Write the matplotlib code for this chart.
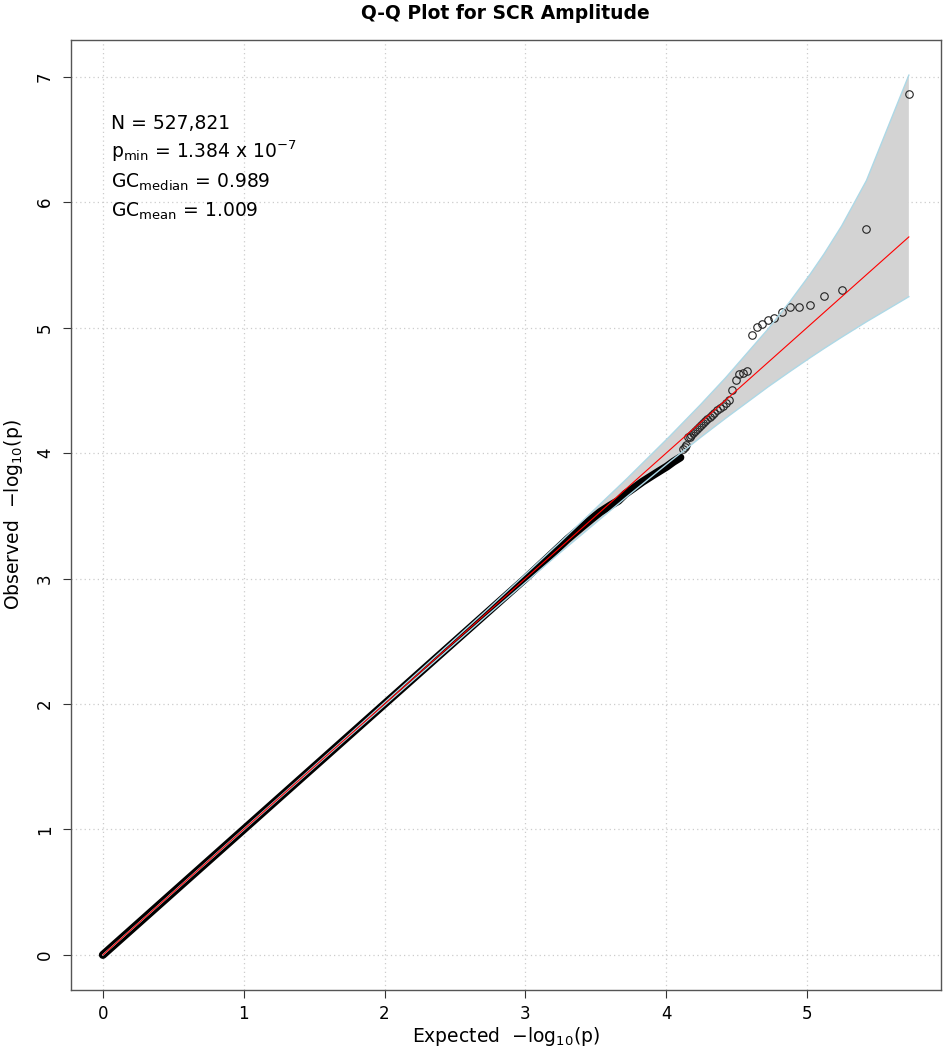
'''Q-Q plot for SCR amplitude GWAS p-values'''
import numpy as np
import matplotlib as mpl
import matplotlib.pyplot as plt

# Tail points (expected vs observed -log10 p)
tail_expected = [5.7225, 5.4215, 5.2454, 5.1204, 5.0235, 4.9443, 4.8774, 4.8194,
                 4.7683, 4.7225, 4.6811, 4.6433, 4.6086, 4.5764, 4.5464, 4.5184,
                 4.4920, 4.4672, 4.4437, 4.4215, 4.4003, 4.3801, 4.3608, 4.3423,
                 4.3246, 4.3076, 4.2911, 4.2753, 4.2601, 4.2454, 4.2311, 4.2174,
                 4.2040, 4.1910, 4.1784, 4.1662, 4.1543, 4.1427, 4.1314, 4.1204]
tail_observed = [6.859, 5.788, 5.300, 5.254, 5.177, 5.166, 5.166, 5.126,
                 5.076, 5.060, 5.028, 5.007, 4.943, 4.650, 4.637, 4.627,
                 4.579, 4.499, 4.419, 4.395, 4.378, 4.362, 4.341, 4.322,
                 4.305, 4.290, 4.268, 4.255, 4.238, 4.224, 4.205, 4.190,
                 4.178, 4.160, 4.143, 4.130, 4.126, 4.062, 4.050, 4.030]

# Bulk of the points (hundreds of thousands overlapping) traced as a path
bulk_expected = [4.100, 4.050, 4.005, 3.950, 3.900, 3.830, 3.768, 3.710, 3.660,
                 3.600, 3.531, 3.470, 3.400, 3.300, 3.200, 3.000, 2.500, 2.000,
                 1.500, 1.000, 0.500, 0.000]
bulk_observed = [3.965, 3.930, 3.893, 3.855, 3.820, 3.770, 3.720, 3.675, 3.620,
                 3.580, 3.530, 3.475, 3.410, 3.315, 3.210, 3.000, 2.500, 2.000,
                 1.500, 1.000, 0.500, 0.000]

# 90% confidence band
ci_expected = [5.7225, 5.4215, 5.2454, 5.1204, 5.0235, 4.8774, 4.7225, 4.4215,
               4.2454, 4.0235, 3.7225, 3.2454, 2.7225, 1.7225, 0.0]
ci_upper = [7.012, 6.172, 5.810, 5.587, 5.428, 5.206, 4.988, 4.600,
            4.388, 4.132, 3.798, 3.288, 2.746, 1.730, 0.0]
ci_lower = [5.246, 5.046, 4.923, 4.833, 4.761, 4.649, 4.527, 4.277,
            4.126, 3.929, 3.654, 3.205, 2.700, 1.715, 0.0]

# Null line
null_line = [0.0, 5.7225]

stats_lines = ['N = 527,821',
               r'p$\mathregular{_{min}}$ = 1.384 x 10$\mathregular{^{-7}}$',
               r'GC$\mathregular{_{median}}$ = 0.989',
               r'GC$\mathregular{_{mean}}$ = 1.009']

x_ticks = [0, 1, 2, 3, 4, 5]
y_ticks = [0, 1, 2, 3, 4, 5, 6, 7]

mpl.rcParams['font.family'] = 'DejaVu Sans'
mpl.rcParams['mathtext.fontset'] = 'dejavusans'

fig = plt.figure(figsize=(9.44, 10.5), dpi=100, facecolor='white')
ax = fig.add_axes([0.0748, 0.0571, 0.9222, 0.9048])

# Grid lines
for xv in x_ticks:
    ax.axvline(xv, color='#cccccc', linestyle=(0, (1, 2.5)), linewidth=0.9, zorder=0)
for yv in y_ticks:
    ax.axhline(yv, color='#cccccc', linestyle=(0, (1, 2.5)), linewidth=0.9, zorder=0)

# Confidence band
ax.fill_between(ci_expected, ci_lower, ci_upper, facecolor='lightgray',
                edgecolor='none', zorder=1)

# Points
ax.plot(bulk_expected, bulk_observed, color='black', linewidth=5.8,
        solid_capstyle='round', solid_joinstyle='round', zorder=2)
ax.plot(tail_expected, tail_observed, linestyle='none', marker='o',
        markersize=5.4, markerfacecolor='none', markeredgecolor='#222222',
        markeredgewidth=0.8, zorder=2)

# Band borders and null line
ax.plot(ci_expected, ci_upper, color='lightblue', linewidth=1.0, zorder=3)
ax.plot(ci_expected, ci_lower, color='lightblue', linewidth=1.0, zorder=3)
ax.plot(null_line, null_line, color='red', linewidth=0.8, zorder=4)

ax.set_xlim(-0.229, 5.952)
ax.set_ylim(-0.28, 7.292)
ax.set_xticks(x_ticks)
ax.set_yticks(y_ticks)
ax.tick_params(direction='out', length=6, width=0.8, color='#333333',
               labelsize=12, pad=5)
ax.tick_params(axis='y', labelrotation=90, pad=6)
for lab in ax.get_yticklabels():
    lab.set_va('center')

for s in ax.spines.values():
    s.set_color('#555555')
    s.set_linewidth(1.0)

ax.set_xlabel(r'Expected  $\mathregular{-log_{10}(p)}$', fontsize=13.5, labelpad=1)
ax.set_ylabel(r'Observed  $\mathregular{-log_{10}(p)}$', fontsize=13.5, labelpad=8)

# Summary statistics
for i, line in enumerate(stats_lines):
    ax.text(0.046, 0.906 - i * 0.0305, line, transform=ax.transAxes,
            fontsize=13.5, ha='left', va='baseline')

fig.text(0.5355, 0.9875, 'Q-Q Plot for SCR Amplitude', ha='center', va='center',
         fontsize=13.5, fontweight='bold')

fig.savefig('out.png', dpi=100)
